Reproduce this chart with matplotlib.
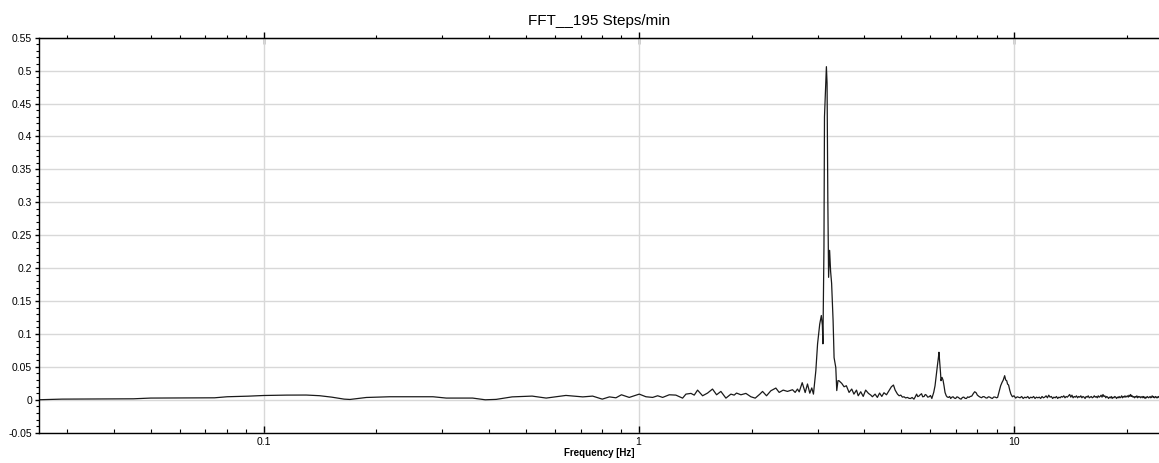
import matplotlib
matplotlib.use("Agg")
import matplotlib.pyplot as plt
from matplotlib.ticker import FixedLocator, LogLocator, NullFormatter, FuncFormatter

plt.rcParams['font.family'] = ['Liberation Sans', 'DejaVu Sans']
plt.rcParams['axes.unicode_minus'] = False

# spectrum, low band 0.025 - 1 Hz
freq_low = [0.025, 0.029, 0.045, 0.05, 0.074, 0.08, 0.091, 0.1, 0.115, 0.13, 0.141,
            0.152, 0.164, 0.17, 0.188, 0.217, 0.25, 0.283, 0.307, 0.361, 0.39, 0.417,
            0.46, 0.52, 0.567, 0.64, 0.71, 0.754, 0.8, 0.836, 0.87, 0.9, 0.944]
amp_low = [0.0, 0.001, 0.0015, 0.0026, 0.003, 0.0046, 0.0055, 0.0065, 0.0071, 0.0072, 0.0062,
           0.004, 0.001, 0.0005, 0.0035, 0.0046, 0.0046, 0.0046, 0.0026, 0.0026, 0.0, 0.0006,
           0.0044, 0.0056, 0.0026, 0.0066, 0.0044, 0.0056, 0.001, 0.0044, 0.003, 0.0076, 0.0036]

# 1 - 2.95 Hz
freq_mid = [1.004, 1.046, 1.09, 1.124, 1.159, 1.207, 1.257, 1.31, 1.337, 1.379, 1.407,
            1.436, 1.481, 1.527, 1.574, 1.614, 1.657, 1.709, 1.762, 1.798, 1.824, 1.874,
            1.932, 1.992, 2.046, 2.105, 2.14, 2.193, 2.252, 2.322, 2.37, 2.429, 2.494,
            2.572, 2.614, 2.652, 2.68, 2.73, 2.78, 2.82, 2.86, 2.895, 2.925]
amp_mid = [0.0086, 0.0046, 0.0036, 0.0061, 0.0036, 0.0076, 0.0071, 0.0025, 0.0086, 0.0097, 0.0071,
           0.0147, 0.0061, 0.0102, 0.0163, 0.0076, 0.0127, 0.0025, 0.0086, 0.0071, 0.0102, 0.0076,
           0.0097, 0.0046, 0.0025, 0.0086, 0.0127, 0.0061, 0.0137, 0.0178, 0.0112, 0.0147, 0.0127,
           0.0153, 0.0112, 0.0163, 0.012, 0.026, 0.011, 0.024, 0.010, 0.018, 0.0086]

# step frequency peak
freq_peak = [2.968, 3.0, 3.04, 3.07, 3.09, 3.10, 3.12, 3.13, 3.167, 3.18, 3.195, 3.21,
             3.23, 3.25, 3.27, 3.30, 3.32, 3.355, 3.375, 3.40]
amp_peak = [0.044, 0.085, 0.115, 0.128, 0.113, 0.085, 0.232, 0.430, 0.506, 0.481, 0.303, 0.186,
            0.227, 0.195, 0.177, 0.120, 0.064, 0.049, 0.014, 0.029]

# 3.4 - 10.3 Hz, harmonics
freq_harm = [3.42, 3.48, 3.53, 3.58, 3.64, 3.70, 3.75, 3.81, 3.85, 3.91, 3.97, 4.03, 4.10,
             4.16, 4.20, 4.27, 4.33, 4.39, 4.45, 4.51, 4.58, 4.65, 4.72, 4.78, 4.83, 4.90,
             4.95, 5.00, 5.05, 5.10, 5.15, 5.21, 5.26, 5.31, 5.36, 5.42, 5.46, 5.51, 5.55,
             5.59, 5.63, 5.68, 5.72, 5.77, 5.81, 5.85, 5.90, 5.95, 6.00, 6.05, 6.12, 6.17,
             6.22, 6.26, 6.30, 6.32, 6.35, 6.38, 6.40, 6.44, 6.48, 6.52, 6.56, 6.61, 6.65,
             6.70, 6.75, 6.79, 6.84, 6.89, 6.95, 7.00, 7.06, 7.12, 7.18, 7.24, 7.30, 7.36,
             7.42, 7.48, 7.54, 7.60, 7.66, 7.73, 7.81, 7.87, 7.94, 8.00, 8.08, 8.14, 8.21,
             8.28, 8.35, 8.42, 8.49, 8.56, 8.63, 8.70, 8.77, 8.85, 8.92, 9.00, 9.06, 9.16,
             9.23, 9.31, 9.38, 9.46, 9.52, 9.58, 9.63, 9.69, 9.76, 9.83, 9.92, 10.02, 10.12,
             10.22, 10.33]
amp_harm = [0.029, 0.0249, 0.0198, 0.0213, 0.0112, 0.0163, 0.0086, 0.0147, 0.0061, 0.0122, 0.0051,
            0.0147, 0.0097, 0.0071, 0.0046, 0.0086, 0.0036, 0.0102, 0.0051, 0.0107, 0.0076, 0.0137,
            0.0198, 0.0224, 0.0147, 0.0086, 0.0061, 0.0071, 0.0040, 0.0046, 0.0028, 0.0036, 0.0022,
            0.0020, 0.0035, 0.0010, 0.0040, 0.0086, 0.0048, 0.0056, 0.0075, 0.0092, 0.0045, 0.0051,
            0.0080, 0.0071, 0.0040, 0.0046, 0.0065, 0.0020, 0.0112, 0.0213, 0.0391, 0.0518, 0.0645,
            0.0722, 0.0569, 0.0417, 0.0290, 0.0340, 0.0300, 0.0213, 0.0112, 0.0061, 0.0042, 0.0036,
            0.0050, 0.0020, 0.0038, 0.0046, 0.0025, 0.0020, 0.0045, 0.0036, 0.0018, 0.0010, 0.0035,
            0.0041, 0.0022, 0.0020, 0.0044, 0.0036, 0.0050, 0.0056, 0.0097, 0.0122, 0.0107, 0.0071,
            0.0051, 0.0040, 0.0031, 0.0048, 0.0046, 0.0030, 0.0026, 0.0045, 0.0041, 0.0028, 0.0020,
            0.0042, 0.0041, 0.0030, 0.0036, 0.0137, 0.0213, 0.0264, 0.0300, 0.0366, 0.0300, 0.0290,
            0.0239, 0.0224, 0.0147, 0.0086, 0.0046, 0.0061, 0.0026, 0.0045, 0.0036]

# 10.4 - 24.5 Hz noise floor
freq_high = [10.4, 10.5, 10.6, 10.7, 10.8, 10.9, 11.0,
             11.1, 11.2, 11.3, 11.4, 11.5, 11.6, 11.7, 11.8, 11.9, 12.0,
             12.1, 12.2, 12.3, 12.4, 12.5, 12.6, 12.7, 12.8, 12.9, 13.0,
             13.1, 13.2, 13.3, 13.4, 13.5, 13.6, 13.7, 13.8, 13.9, 14.0,
             14.1, 14.2, 14.3, 14.4, 14.5, 14.6, 14.7, 14.8, 14.9, 15.0,
             15.1, 15.2, 15.3, 15.4, 15.5, 15.6, 15.7, 15.8, 15.9, 16.0,
             16.1, 16.2, 16.3, 16.4, 16.5, 16.6, 16.7, 16.8, 16.9, 17.0,
             17.1, 17.2, 17.3, 17.4, 17.5, 17.6, 17.7, 17.8, 17.9, 18.0,
             18.1, 18.2, 18.3, 18.4, 18.5, 18.6, 18.7, 18.8, 18.9, 19.0,
             19.1, 19.2, 19.3, 19.4, 19.5, 19.6, 19.7, 19.8, 19.9, 20.0,
             20.1, 20.2, 20.3, 20.4, 20.5, 20.6, 20.7, 20.8, 20.9, 21.0,
             21.1, 21.2, 21.3, 21.4, 21.5, 21.6, 21.7, 21.8, 21.9, 22.0,
             22.1, 22.2, 22.3, 22.4, 22.5, 22.6, 22.7, 22.8, 22.9, 23.0,
             23.1, 23.2, 23.3, 23.4, 23.5, 23.6, 23.7, 23.8, 23.9, 24.0,
             24.1, 24.2, 24.3, 24.4, 24.5]
amp_high = [0.003, 0.005, 0.002, 0.004, 0.003, 0.005, 0.002,
            0.004, 0.003, 0.005, 0.002, 0.004, 0.003, 0.004, 0.002, 0.005, 0.003,
            0.004, 0.006, 0.003, 0.007, 0.004, 0.005, 0.002, 0.004, 0.003, 0.005,
            0.002, 0.004, 0.003, 0.005, 0.004, 0.006, 0.003, 0.005, 0.004, 0.006,
            0.008, 0.004, 0.007, 0.003, 0.005, 0.004, 0.006, 0.003, 0.005, 0.004,
            0.006, 0.003, 0.005, 0.004, 0.002, 0.005, 0.004, 0.006, 0.003, 0.004,
            0.005, 0.003, 0.004, 0.006, 0.004, 0.005, 0.003, 0.006, 0.004, 0.005,
            0.007, 0.004, 0.008, 0.005, 0.006, 0.003, 0.005, 0.004, 0.002, 0.004,
            0.003, 0.005, 0.002, 0.004, 0.003, 0.005, 0.004, 0.002, 0.004, 0.003,
            0.005, 0.003, 0.004, 0.006, 0.003, 0.005, 0.004, 0.006, 0.004, 0.005,
            0.006, 0.004, 0.007, 0.005, 0.008, 0.005, 0.006, 0.004, 0.005, 0.003,
            0.005, 0.004, 0.006, 0.003, 0.005, 0.004, 0.005, 0.003, 0.004, 0.005,
            0.003, 0.005, 0.004, 0.002, 0.004, 0.003, 0.005, 0.004, 0.003, 0.004,
            0.005, 0.003, 0.004, 0.006, 0.004, 0.005, 0.003, 0.004, 0.005, 0.003,
            0.004, 0.003, 0.005, 0.004, 0.003]

freq = freq_low + freq_mid + freq_peak + freq_harm + freq_high
amp = amp_low + amp_mid + amp_peak + amp_harm + amp_high

fig = plt.figure(figsize=(11.59, 4.63), dpi=100)
ax = fig.add_axes([39 / 1159, 30.3 / 463, 1120 / 1159, 395 / 463])

ax.plot(freq, amp, color='#1a1a1a', lw=0.9)

ax.set_xscale('log')
ax.set_xlim(0.0252, 24.4)
ax.set_ylim(-0.05, 0.55)

yticks = [-0.05, 0, 0.05, 0.1, 0.15, 0.2, 0.25, 0.3, 0.35, 0.4, 0.45, 0.5, 0.55]
ax.yaxis.set_major_locator(FixedLocator(yticks))
ax.yaxis.set_minor_locator(FixedLocator([i * 0.01 - 0.05 for i in range(61)]))
ax.yaxis.set_major_formatter(FuncFormatter(lambda v, p: '%g' % round(v, 2)))
ax.xaxis.set_major_locator(FixedLocator([0.1, 1, 10]))
ax.xaxis.set_minor_locator(LogLocator(base=10, subs=range(2, 10)))
ax.xaxis.set_minor_formatter(NullFormatter())
ax.xaxis.set_major_formatter(FuncFormatter(lambda v, p: '%g' % v))

ax.grid(True, which='major', color='#d8d8d8', lw=1, solid_capstyle='butt')
ax.set_axisbelow(True)
ax.spines['right'].set_visible(False)
for s in ['left', 'bottom', 'top']:
    ax.spines[s].set_linewidth(1.0)

ax.tick_params(axis='y', which='major', direction='out', length=3, width=1, labelsize=7.5, pad=2)
ax.tick_params(axis='y', which='minor', direction='out', length=2, width=0.8)
ax.tick_params(axis='x', which='major', direction='in', length=5, width=1, labelsize=7.5, pad=3)
ax.tick_params(axis='x', which='minor', direction='in', length=3, width=0.8)

top = ax.secondary_xaxis('top')
top.xaxis.set_major_locator(FixedLocator([0.1, 1, 10]))
top.xaxis.set_minor_locator(LogLocator(base=10, subs=range(2, 10)))
top.xaxis.set_major_formatter(NullFormatter())
top.xaxis.set_minor_formatter(NullFormatter())
top.tick_params(which='major', direction='inout', length=8, width=1, color='black')
top.tick_params(which='minor', direction='out', length=2, width=0.8)

ax.set_title('FFT__195 Steps/min', fontsize=11, pad=9)
ax.set_xlabel('Frequency [Hz]', fontsize=7, fontweight='bold', labelpad=1)

fig.savefig('out.png', dpi=100)
